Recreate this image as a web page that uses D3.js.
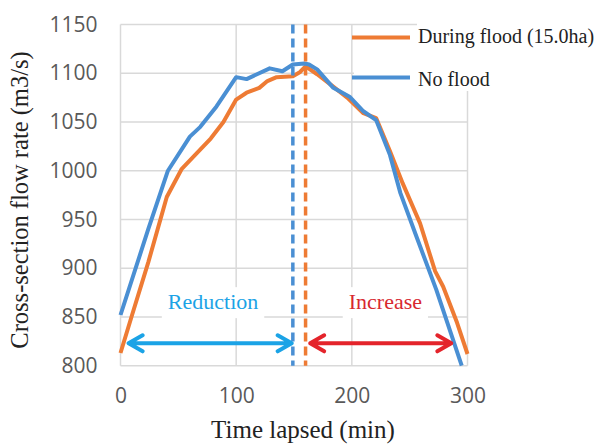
<!DOCTYPE html>
<html lang="en">
<head>
  <meta charset="utf-8">
  <title></title>
  <style>
    body { margin: 0; background: #fff; }
    .tick text { fill: #595959; font-family: "Open Sans", sans-serif; font-size: 21px; }
    .serif { font-family: "Liberation Serif", "Times New Roman", serif; fill: #222; }
  </style>
</head>
<body>
  <div id="chart"></div>
  <script src="https://d3js.org/d3.v7.min.js"></script>
  <script>
    // no flood (blue)
    var noFloodTime = [0, 24, 41, 60, 69, 83, 100, 109, 129, 140, 149, 159, 163, 170, 184, 198, 210, 221, 233, 242, 256, 273, 295];
    var noFloodFlow = [852, 940, 1000, 1035, 1045, 1066, 1096, 1094, 1105, 1102, 1109, 1110, 1109, 1104, 1085, 1076, 1061, 1052, 1016, 977, 932, 878, 800];
    // during flood 15.0ha (orange)
    var floodTime = [0, 10, 24, 40, 53, 66, 78, 89, 100, 109, 120, 127, 135, 149, 155, 160, 170, 182, 196, 210, 221, 233, 244, 259, 272, 279, 291, 300];
    var floodFlow = [813, 852, 906, 973, 1002, 1018, 1033, 1050, 1073, 1080, 1085, 1092, 1096, 1097, 1101, 1107, 1099, 1088, 1075, 1059, 1054, 1020, 987, 946, 897, 881, 844, 812];

    var xTicks = [0, 100, 200, 300];
    var yTicks = [800, 850, 900, 950, 1000, 1050, 1100, 1150];
    var peakTimes = [149, 160]; // blue, orange
    var arrowSpans = [[7, 148], [164, 286]];
    var arrowLevel = 823;
    var notes = ["Reduction", "Increase"];
    var noteTimes = [80, 229];
    var noteLevel = 858;

    var w = 597, h = 444;
    var blue = "#4a8fd3", orange = "#ee7b34";
    var grid = "#d9d9d9";

    var x = d3.scaleLinear().domain([0, 300]).range([120.5, 467.5]);
    var y = d3.scaleLinear().domain([800, 1150]).range([365.7, 24.5]);

    var svg = d3.select("#chart").append("svg")
      .attr("width", w).attr("height", h)
      .style("background", "#fff");

    // gridlines
    svg.append("g").selectAll("line").data(yTicks).enter().append("line")
      .attr("x1", x(0)).attr("x2", x(300))
      .attr("y1", d => y(d)).attr("y2", d => y(d))
      .attr("stroke", grid).attr("stroke-width", 1.5);
    svg.append("g").selectAll("line").data(xTicks).enter().append("line")
      .attr("y1", y(800)).attr("y2", y(1150))
      .attr("x1", d => x(d)).attr("x2", d => x(d))
      .attr("stroke", grid).attr("stroke-width", 1.5);

    // axes (labels only)
    var yAxis = svg.append("g").attr("transform", "translate(" + x(0) + ",0)")
      .call(d3.axisLeft(y).tickValues(yTicks).tickFormat(d3.format("d")).tickSize(0).tickPadding(23));
    yAxis.select(".domain").remove();
    var xAxis = svg.append("g").attr("transform", "translate(0," + y(800) + ")")
      .call(d3.axisBottom(x).tickValues(xTicks).tickFormat(d3.format("d")).tickSize(0).tickPadding(22));
    xAxis.select(".domain").remove();

    // note boxes + text
    notes.forEach(function(n, i) {
      var g = svg.append("g");
      var t = g.append("text").attr("x", x(noteTimes[i])).attr("y", y(noteLevel))
        .attr("text-anchor", "middle")
        .style("font-family", "'Liberation Serif', serif").style("font-size", "22px")
        .attr("fill", i == 0 ? "#1ba3e6" : "#d8282f")
        .text(n);
      var b = t.node().getBBox();
      g.insert("rect", "text").attr("x", b.x - 6).attr("y", b.y - 2)
        .attr("width", b.width + 12).attr("height", b.height + 6).attr("fill", "#fff");
    });

    // lines
    var line = d3.line().x(d => x(d[0])).y(d => y(d[1]));
    var floodPts = floodTime.map((t, i) => [t, floodFlow[i]]);
    var noFloodPts = noFloodTime.map((t, i) => [t, noFloodFlow[i]]);
    svg.append("path").datum(floodPts).attr("d", line)
      .attr("fill", "none").attr("stroke", orange).attr("stroke-width", 4).attr("stroke-linejoin", "round");
    svg.append("path").datum(noFloodPts).attr("d", line)
      .attr("fill", "none").attr("stroke", blue).attr("stroke-width", 4).attr("stroke-linejoin", "round");

    // dashed peak markers
    svg.append("g").selectAll("line").data(peakTimes).enter().append("line")
      .attr("x1", d => x(d)).attr("x2", d => x(d))
      .attr("y1", y(1150)).attr("y2", y(800))
      .attr("stroke", (d, i) => i == 0 ? blue : orange)
      .attr("stroke-width", 3.5).attr("stroke-dasharray", "9,5");

    // double arrows
    arrowSpans.forEach(function(s, i) {
      var x1 = x(s[0]), x2 = x(s[1]), yy = y(arrowLevel);
      var p = "M" + x1 + "," + yy + "H" + x2 +
        "M" + (x1 + 14) + "," + (yy - 8) + "L" + x1 + "," + yy + "L" + (x1 + 14) + "," + (yy + 8) +
        "M" + (x2 - 14) + "," + (yy - 8) + "L" + x2 + "," + yy + "L" + (x2 - 14) + "," + (yy + 8);
      svg.append("path").attr("d", p).attr("fill", "none")
        .attr("stroke", i == 0 ? "#1ba3e6" : "#e4242b")
        .attr("stroke-width", 4).attr("stroke-linecap", "round").attr("stroke-linejoin", "round");
    });

    // legend
    var leg = svg.append("g");
    leg.append("rect").attr("x", 354).attr("y", 27).attr("width", 243).attr("height", 64).attr("fill", "#fff");
    leg.append("rect").attr("x", 417).attr("y", 20).attr("width", 180).attr("height", 30).attr("fill", "#fff");
    [["During flood (15.0ha)", orange, 37.5, 43], ["No flood", blue, 77.5, 86]].forEach(function(l) {
      leg.append("line").attr("x1", 352).attr("x2", 410).attr("y1", l[2]).attr("y2", l[2])
        .attr("stroke", l[1]).attr("stroke-width", 4);
      leg.append("text").attr("class", "serif").attr("x", 418).attr("y", l[3])
        .style("font-size", "20px").text(l[0]);
    });

    // axis titles
    svg.append("text").attr("class", "serif").attr("x", 303).attr("y", 438)
      .attr("text-anchor", "middle").style("font-size", "25px").text("Time lapsed (min)");
    svg.append("text").attr("class", "serif")
      .attr("transform", "translate(28,200) rotate(-90)")
      .style("font-family", "'Liberation Serif', serif")
      .attr("text-anchor", "middle").style("font-size", "24.5px").text("Cross-section flow rate (m3/s)");
  </script>
</body>
</html>
